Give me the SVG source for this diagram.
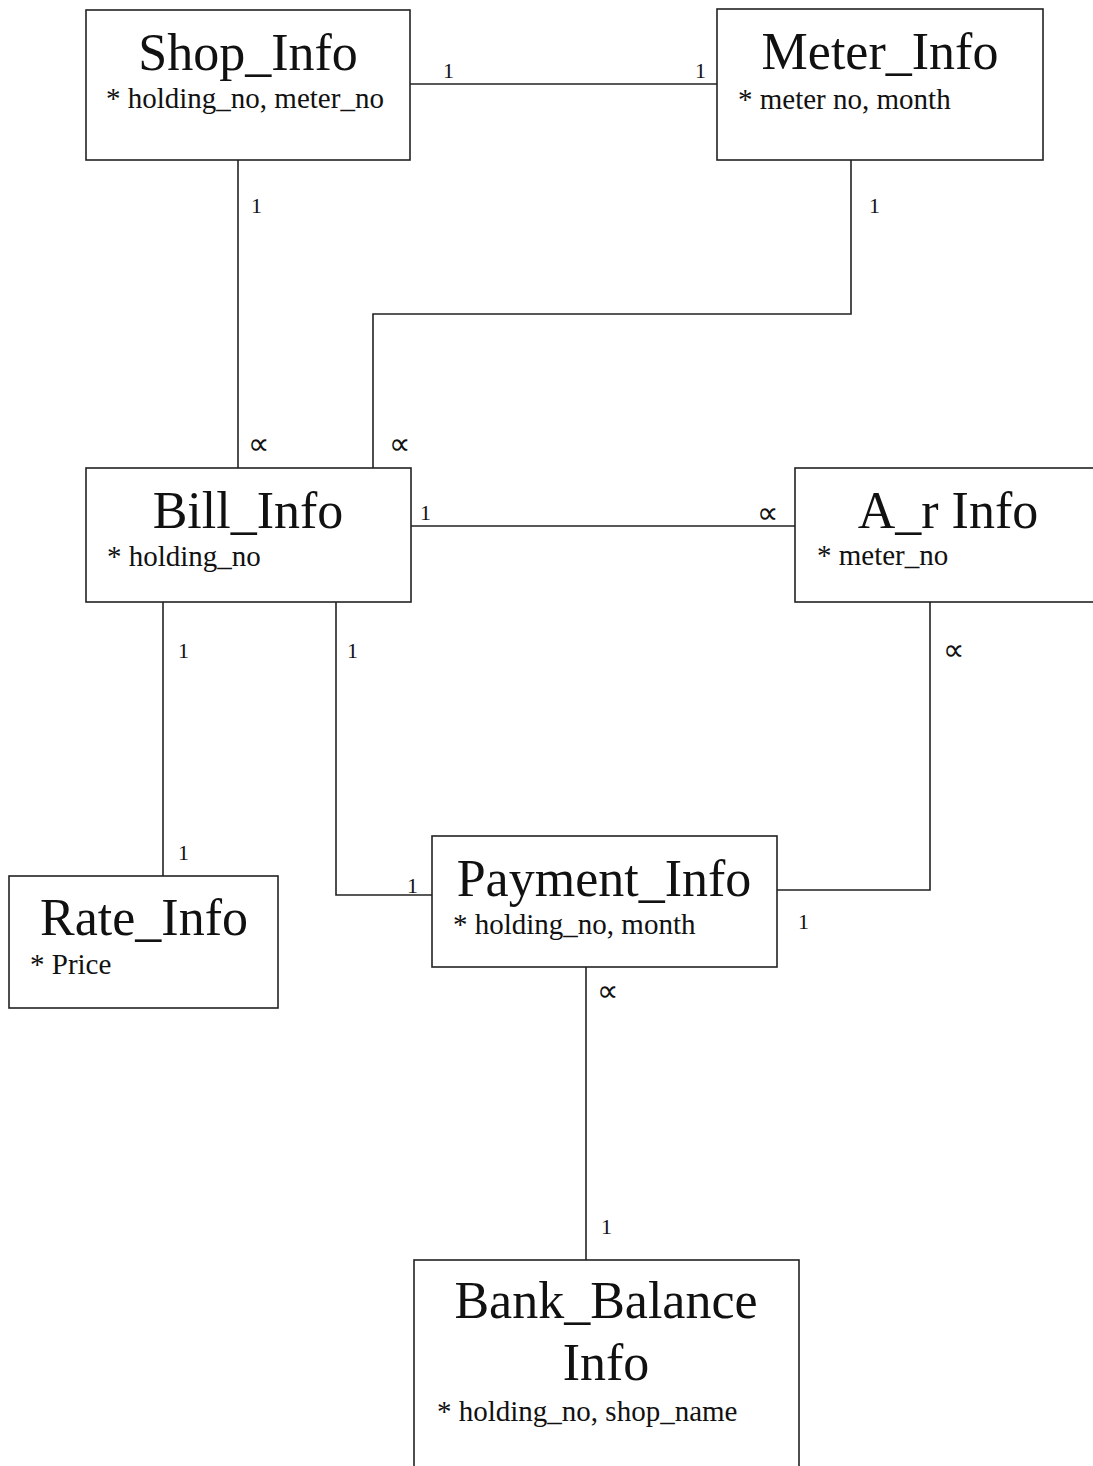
<svg xmlns="http://www.w3.org/2000/svg" width="1093" height="1466" viewBox="0 0 1093 1466">
<style>
.box{fill:#fff;stroke:#222;stroke-width:1.6}
.ln{fill:none;stroke:#222;stroke-width:1.6}
.t{font-family:"Liberation Serif","Times New Roman",serif;font-size:52px;fill:#111;text-anchor:middle}
.a{font-family:"Liberation Serif","Times New Roman",serif;font-size:29px;fill:#111}
.c{font-family:"Liberation Serif","Times New Roman",serif;font-size:22px;fill:#111}
.m{font-family:"DejaVu Sans",sans-serif;font-size:30px;fill:#111}
</style>
<rect width="1093" height="1466" fill="#fff"/>
<g id="connectors">
<polyline class="ln" points="410,84 717,84"/>
<polyline class="ln" points="238,160 238,468"/>
<polyline class="ln" points="851,160 851,314 373,314 373,468"/>
<polyline class="ln" points="411,526 795,526"/>
<polyline class="ln" points="163,602 163,877"/>
<polyline class="ln" points="336,602 336,895 432,895"/>
<polyline class="ln" points="930,602 930,890 777,890"/>
<polyline class="ln" points="586,967 586,1260"/>
<text class="c" x="443" y="78">1</text>
<text class="c" x="695" y="78">1</text>
<text class="c" x="251" y="213">1</text>
<text class="c" x="869" y="213">1</text>
<text class="m" x="248" y="454">∝</text>
<text class="m" x="389" y="454">∝</text>
<text class="c" x="420" y="520">1</text>
<text class="m" x="757" y="523">∝</text>
<text class="c" x="178" y="658">1</text>
<text class="c" x="347" y="658">1</text>
<text class="m" x="943" y="660">∝</text>
<text class="c" x="178" y="860">1</text>
<text class="c" x="407" y="893">1</text>
<text class="c" x="798" y="929">1</text>
<text class="m" x="597" y="1001">∝</text>
<text class="c" x="601" y="1234">1</text>
</g>
<g id="shop_info">
<rect class="box" x="86" y="10" width="324" height="150"/>
<text class="t" x="248" y="70">Shop_Info</text>
<text class="a" x="106" y="108">* holding_no, meter_no</text>
</g>
<g id="meter_info">
<rect class="box" x="717" y="9" width="326" height="151"/>
<text class="t" x="880" y="69">Meter_Info</text>
<text class="a" x="738" y="109">* meter no, month</text>
</g>
<g id="bill_info">
<rect class="box" x="86" y="468" width="325" height="134"/>
<text class="t" x="248" y="528">Bill_Info</text>
<text class="a" x="107" y="566">* holding_no</text>
</g>
<g id="ar_info">
<rect class="box" x="795" y="468" width="310" height="134"/>
<text class="t" x="948" y="528">A_r Info</text>
<text class="a" x="817" y="565">* meter_no</text>
</g>
<g id="rate_info">
<rect class="box" x="9" y="876" width="269" height="132"/>
<text class="t" x="144" y="935">Rate_Info</text>
<text class="a" x="30" y="974">* Price</text>
</g>
<g id="payment_info">
<rect class="box" x="432" y="836" width="345" height="131"/>
<text class="t" x="604" y="896">Payment_Info</text>
<text class="a" x="453" y="934">* holding_no, month</text>
</g>
<g id="bank_balance_info">
<rect class="box" x="414" y="1260" width="385" height="220"/>
<text class="t" x="606" y="1318">Bank_Balance</text>
<text class="t" x="606" y="1380">Info</text>
<text class="a" x="437" y="1421">* holding_no, shop_name</text>
</g>
</svg>
